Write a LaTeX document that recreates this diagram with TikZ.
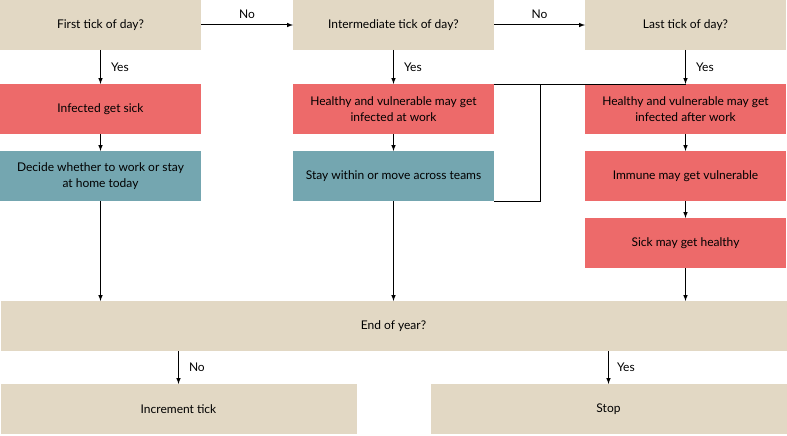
\documentclass[tikz,border=0pt]{standalone}
\usepackage{fontspec}
\setmainfont{Lato}
\usetikzlibrary{positioning}
\definecolor{question}{HTML}{E2D8C4}
\definecolor{infect}{HTML}{ED6A6A}
\definecolor{move}{HTML}{74A6B0}

\begin{document}
\begin{tikzpicture}[
    x=1pt, y=1pt,
    node distance=17pt,
    every node/.style={font=\fontsize{12}{16}\selectfont},
    box/.style={minimum width=201pt, minimum height=50pt, inner sep=0pt, outer sep=0pt, align=center},
    ask/.style={box, fill=question},
    infection/.style={box, fill=infect},
    choice/.style={box, fill=move},
    >=latex, line width=1pt
]
    \useasboundingbox (0,0) rectangle (787,-436);

    \node (first) [ask, anchor=north west] at (0,0) {First tick of day?};
    \node (inter) [ask, right=92pt of first] {Intermediate tick of day?};
    \node (last) [ask, right=91pt of inter] {Last tick of day?};

    \node (sick) [infection, below=34pt of first] {Infected get sick};
    \node (decide) [choice, below=of sick] {Decide whether to work or stay\\at home today};
    \node (atwork) [infection, below=34pt of inter] {Healthy and vulnerable may get\\infected at work};
    \node (teams) [choice, below=of atwork] {Stay within or move across teams};
    \node (afterwork) [infection, below=34pt of last] {Healthy and vulnerable may get\\infected after work};
    \node (immune) [infection, below=of afterwork] {Immune may get vulnerable};
    \node (healthy) [infection, below=of immune] {Sick may get healthy};

    \node (endyear) [ask, minimum width=786pt, below=100pt of teams] {End of year?};
    \node (incr) [ask, minimum width=356pt, below right=33pt and 0pt of endyear.south west] {Increment tick};
    \node (stop) [ask, minimum width=356pt, below left=33pt and 0pt of endyear.south east] {Stop};

    \draw[->] (first) -- node[above, inner sep=6pt] {No} (inter);
    \draw[->] (inter) -- node[above, inner sep=6pt] {No} (last);
    \draw[->] (first) -- node[right, inner sep=10pt] {Yes} (sick);
    \draw[->] (inter) -- node[right, inner sep=10pt] {Yes} (atwork);
    \draw[->] (last) -- node[right, inner sep=10pt] {Yes} (afterwork);

    \draw[->] (sick) -- (decide);
    \draw[->] (atwork) -- (teams);
    \draw[->] (afterwork) -- (immune);
    \draw[->] (immune) -- (healthy);

    \draw (teams.south east) -- ++(46,0) |- (afterwork.north);
    \draw (atwork.north east) -- (afterwork.north);

    \draw[->] (decide) -- (decide |- endyear.north);
    \draw[->] (teams) -- (endyear);
    \draw[->] (healthy) -- (healthy |- endyear.north);

    \draw[->] (incr |- endyear.south) -- node[right, inner sep=10pt] {No} (incr);
    \draw[->] (stop |- endyear.south) -- node[right, inner sep=8pt] {Yes} (stop);
\end{tikzpicture}
\end{document}
